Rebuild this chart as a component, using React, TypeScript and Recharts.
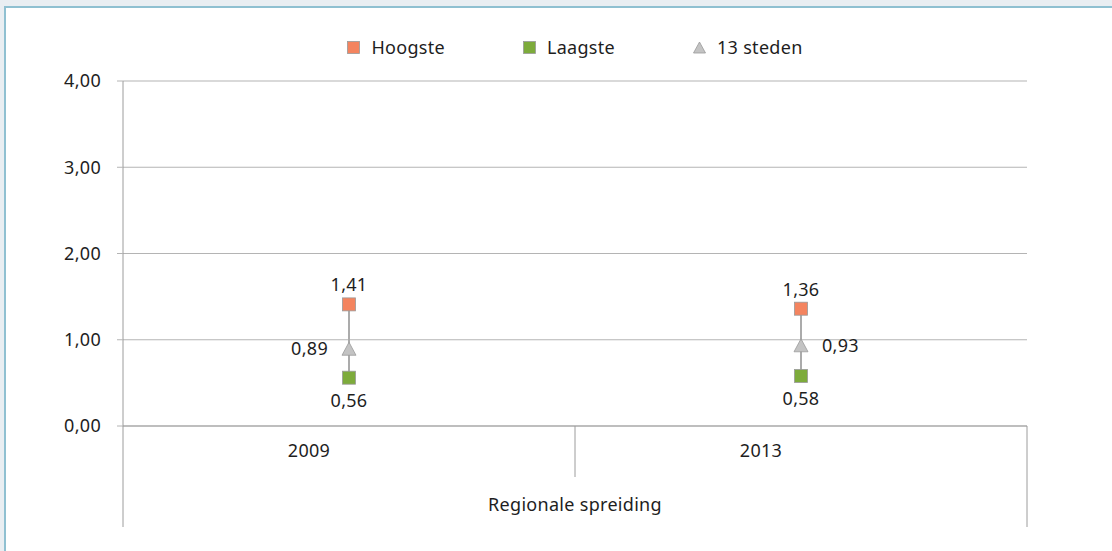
import React from "react";
import {
  ComposedChart,
  Bar,
  Line,
  XAxis,
  YAxis,
  CartesianGrid,
  Legend,
  LabelList,
} from "recharts";

const YEARS = ["2009", "2013"];
const HOOGSTE = [1.41, 1.36];
const LAAGSTE = [0.56, 0.58];
const STEDEN = [0.89, 0.93];
const Y_TICKS = [0, 1, 2, 3, 4];
const GROUP_LABEL = "Regionale spreiding";

const STEDEN_SIDE = ["left", "right"];

const FONT = "'Noto Sans', sans-serif";
const FS = 18;
const LS = 0.3;
const TEXT = "#1e1e1e";
const GRID = "#b4b4b4";
const ORANGE = "#F4845F";
const GREEN = "#7DAB3B";
const TRI = "#C3C3C3";

const data = YEARS.map((year, i) => ({
  year,
  pos: i + 0.5,
  hoogste: HOOGSTE[i],
  laagste: LAAGSTE[i],
  steden: STEDEN[i],
  range: [LAAGSTE[i], HOOGSTE[i]],
}));

const fmt = (v: number) => v.toFixed(2).replace(".", ",");

const textStyle = { fontFamily: FONT, fontSize: FS, fill: TEXT, letterSpacing: LS };

const Square = ({ cx, cy, fill }: any) =>
  cx == null ? null : (
    <rect x={cx - 6.5} y={cy - 6.5} width={13} height={13} fill={fill} stroke="#9a9a9a" strokeWidth={0.8} />
  );

const Triangle = ({ cx, cy }: any) =>
  cx == null ? null : (
    <polygon
      points={`${cx},${cy - 7} ${cx + 7},${cy + 6} ${cx - 7},${cy + 6}`}
      fill={TRI}
      stroke="#9a9a9a"
      strokeWidth={0.8}
    />
  );

const labelAt = (side: string) => (props: any) => {
  const { x, y, value } = props;
  if (x == null) return null;
  if (side === "top")
    return <text x={x} y={y - 13} textAnchor="middle" {...textStyle}>{fmt(value)}</text>;
  if (side === "bottom")
    return <text x={x} y={y + 29} textAnchor="middle" {...textStyle}>{fmt(value)}</text>;
  return null;
};

const StedenLabel = (props: any) => {
  const { x, y, value, index } = props;
  if (x == null) return null;
  const left = STEDEN_SIDE[index] === "left";
  return (
    <text x={left ? x - 21 : x + 21} y={y + 6} textAnchor={left ? "end" : "start"} {...textStyle}>
      {fmt(value)}
    </text>
  );
};

const LEGEND_ITEMS = [
  { name: "Hoogste", kind: "square", color: ORANGE },
  { name: "Laagste", kind: "square", color: GREEN },
  { name: "13 steden", kind: "triangle", color: TRI },
];

const LegendContent = () => (
  <div
    style={{
      height: 46,
      display: "flex",
      justifyContent: "center",
      gap: 78,
      fontFamily: FONT,
      fontSize: FS,
      letterSpacing: LS,
      color: TEXT,
    }}
  >
    {LEGEND_ITEMS.map((it) => (
      <div key={it.name} style={{ display: "flex", alignItems: "center", height: 24 }}>
        <svg width={13} height={13} style={{ marginRight: 11 }}>
          {it.kind === "square" ? (
            <rect x={0.5} y={0.5} width={12} height={12} fill={it.color} stroke="#9a9a9a" strokeWidth={0.8} />
          ) : (
            <polygon points="6.5,1 12.5,12 0.5,12" fill={it.color} stroke="#9a9a9a" strokeWidth={0.8} />
          )}
        </svg>
        <span>{it.name}</span>
      </div>
    ))}
  </div>
);

const YearTick = (props: any) => {
  const { x, y, payload } = props;
  return (
    <text x={x - 40} y={y + 13} textAnchor="middle" {...textStyle}>
      {payload.value}
    </text>
  );
};

const GroupTick = (props: any) => {
  const { x, y, payload } = props;
  const isEdge = payload.value === 0 || payload.value === YEARS.length;
  return <line x1={x} y1={y - 1} x2={x} y2={y + (isEdge ? 100 : 50)} stroke="#9c9c9c" strokeWidth={1} />;
};

export default function App() {
  return (
    <div style={{ position: "fixed", left: 0, top: 0, width: 1112, height: 551, background: "#E9EEF2", overflow: "hidden" }}>
      <div
        style={{
          position: "absolute",
          left: 4,
          top: 6,
          width: 1200,
          height: 600,
          background: "#fff",
          borderLeft: "2px solid #8FC0D1",
          borderTop: "2px solid #8FC0D1",
        }}
      />
      <div style={{ position: "absolute", left: 0, top: 0 }}>
        <ComposedChart width={1112} height={551} data={data} margin={{ top: 35, right: 85, bottom: 24, left: 0 }}>
          <Legend verticalAlign="top" content={<LegendContent />} wrapperStyle={{ left: 123, width: 904 }} />
          <CartesianGrid vertical={false} stroke={GRID} strokeWidth={1.2} />
          <XAxis
            dataKey="year"
            height={1}
            interval={0}
            tickLine={false}
            tickSize={0}
            tickMargin={18}
            axisLine={{ stroke: GRID, strokeWidth: 1.5 }}
            tick={<YearTick />}
          />
          <XAxis
            xAxisId="grp"
            dataKey="pos"
            type="number"
            domain={[0, YEARS.length]}
            ticks={YEARS.map((_, i) => i).concat(YEARS.length)}
            height={100}
            axisLine={false}
            tickLine={false}
            tickSize={0}
            tickMargin={0}
            tick={<GroupTick />}
            label={{ value: GROUP_LABEL, position: "insideTop", offset: 71, ...textStyle }}
          />
          <YAxis
            width={123}
            domain={[0, 4]}
            ticks={Y_TICKS}
            tickFormatter={fmt}
            tickSize={6}
            tickMargin={16}
            axisLine={{ stroke: "#9c9c9c" }}
            tickLine={{ stroke: GRID }}
            tick={textStyle}
          />
          <Bar dataKey="range" barSize={2} fill="#ababab" isAnimationActive={false} legendType="none" />
          <Line dataKey="hoogste" stroke="none" dot={<Square fill={ORANGE} />} activeDot={false} isAnimationActive={false}>
            <LabelList dataKey="hoogste" content={labelAt("top")} />
          </Line>
          <Line dataKey="laagste" stroke="none" dot={<Square fill={GREEN} />} activeDot={false} isAnimationActive={false}>
            <LabelList dataKey="laagste" content={labelAt("bottom")} />
          </Line>
          <Line dataKey="steden" stroke="none" dot={<Triangle />} activeDot={false} isAnimationActive={false}>
            <LabelList dataKey="steden" content={StedenLabel} />
          </Line>
        </ComposedChart>
      </div>
    </div>
  );
}
